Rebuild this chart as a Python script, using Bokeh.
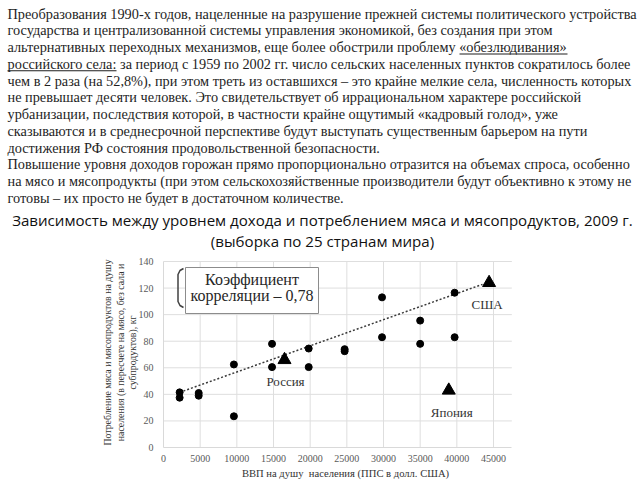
import math
from bokeh.plotting import figure
from bokeh.models import Range1d, FixedTicker
from bokeh.core.properties import value
from bokeh.embed import file_html
from bokeh.resources import INLINE

# ---------------- data ----------------
paragraph = [
    "Преобразования 1990-х годов, нацеленные на разрушение прежней системы политического устройства",
    "государства и централизованной системы управления экономикой, без создания при этом",
    "альтернативных переходных механизмов, еще более обострили проблему «обезлюдивания»",
    "российского села: за период с 1959 по 2002 гг. число сельских населенных пунктов сократилось более",
    "чем в 2 раза (на 52,8%), при этом треть из оставшихся – это крайне мелкие села, численность которых",
    "не превышает десяти человек. Это свидетельствует об иррациональном характере российской",
    "урбанизации, последствия которой, в частности крайне ощутимый «кадровый голод», уже",
    "сказываются и в среднесрочной перспективе будут выступать существенным барьером на пути",
    "достижения РФ состояния продовольственной безопасности.",
    "Повышение уровня доходов горожан прямо пропорционально отразится на объемах спроса, особенно",
    "на мясо и мясопродукты (при этом сельскохозяйственные производители будут объективно к этому не",
    "готовы – их просто не будет в достаточном количестве.",
]
title_lines = [
    "Зависимость между уровнем дохода и потреблением мяса и мясопродуктов, 2009 г.",
    "(выборка по 25 странам мира)",
]

gdp_circles = [2200, 2200, 4800, 4800, 9600, 9600, 14800, 14800, 19800, 19800,
               24700, 24700, 29800, 29800, 35000, 35000, 39700, 39700]
meat_circles = [41.5, 37.5, 41, 39, 62.5, 23.5, 78, 60.5, 74.5, 60.5,
                74, 72.5, 113, 83, 95.5, 78, 116.5, 83]

tri_names = ["Россия", "США", "Япония"]
tri_gdp = [16500, 44400, 38900]
tri_meat = [66, 124, 43]

trend_gdp = [2200, 43500]
trend_meat = [41.5, 122.8]

x_ticks = [0, 5000, 10000, 15000, 20000, 25000, 30000, 35000, 40000, 45000]
y_ticks = [0, 20, 40, 60, 80, 100, 120, 140]
x_max = 47500

x_label = "ВВП на душу\u00a0 населения (ППС в долл. США)"
y_label_lines = [
    "Потребление мяса и мясопродуктов на душу",
    "населения (в пересчете на мясо, без сала и",
    "субпродуктов), кг",
]
corr_lines = ["Коэффициент", "корреляции – 0,78"]

SERIF = value("Liberation Serif")

# ---------------- geometry (pixel placement of the chart area) ----------------
W, H = 640, 480
X0_PX, Y0_PX = 163, 447          # canvas position of (0, 0)
XPX = 330.0 / 45000              # pixels per GDP unit
YPX = 186.0 / 140                # pixels per meat unit


def cx(px):
    return (px - X0_PX) / XPX


def cy(py):
    return (Y0_PX - py) / YPX


p = figure(width=W, height=H, x_range=Range1d(cx(0), cx(W)), y_range=Range1d(cy(H), cy(0)),
           output_backend="svg", toolbar_location=None, min_border=0)
p.outline_line_color = None
p.grid.visible = False

# axes fixed at the origin so the frame spans the whole page
p.xaxis.fixed_location = 0
p.yaxis.fixed_location = 0
p.xaxis.bounds = (0, x_max)
p.yaxis.bounds = (0, y_ticks[-1])
p.xaxis.ticker = FixedTicker(ticks=x_ticks)
p.yaxis.ticker = FixedTicker(ticks=y_ticks)
for ax in (p.xaxis, p.yaxis):
    ax.major_tick_in = 0
    ax.major_tick_out = 0
    ax.minor_tick_in = 0
    ax.minor_tick_out = 0
    ax.axis_line_color = "#d9d9d9"
    ax.major_label_text_font = "Liberation Serif"
    ax.major_label_text_font_size = "10px"
    ax.major_label_text_color = "#595959"
p.xaxis.major_label_standoff = 7
p.yaxis.major_label_standoff = 10

# grid lines from the tick lists
p.segment(x0=x_ticks[1:], y0=[0] * (len(x_ticks) - 1), x1=x_ticks[1:], y1=[y_ticks[-1]] * (len(x_ticks) - 1),
          line_color="#dedede", line_width=1)
p.segment(x0=[0] * (len(y_ticks) - 1), y0=y_ticks[1:], x1=[x_max] * (len(y_ticks) - 1), y1=y_ticks[1:],
          line_color="#dedede", line_width=1)

# ---------------- text block ----------------
line_py = [13 + i * 16.75 for i in range(len(paragraph))]
p.text(x=[cx(7)] * len(paragraph), y=[cy(v) for v in line_py], text=paragraph, text_font=SERIF,
       text_font_size="14.3px", text_baseline="middle", text_align="left", text_color="#1e1e1e")
ul_y = [cy(line_py[2] + 7), cy(line_py[3] + 7)]
p.segment(x0=[cx(459), cx(7)], y0=ul_y, x1=[cx(567), cx(116)], y1=ul_y,
          line_color="#1e1e1e", line_width=1)

p.text(x=[cx(322)] * 2, y=[cy(219), cy(240)], text=title_lines, text_font=value("Open Sans"),
       text_font_size="15.1px", text_baseline="middle", text_align="center", text_color="#111111")

# ---------------- chart ----------------
# correlation box with bracket
p.quad(left=[cx(185)], right=[cx(318)], top=[cy(267)], bottom=[cy(313)],
       fill_color="white", line_color="#8c8c8c", line_width=1)
bx = [183, 179.5, 177.5, 177.5, 179.5, 183]
by = [268, 270, 274, 301, 305, 307]
p.line(x=[cx(v) for v in bx], y=[cy(v) for v in by], line_color="#404040", line_width=1.5)
p.text(x=[cx(251.5)] * 2, y=[cy(279), cy(295)], text=corr_lines, text_font=SERIF,
       text_font_size="16px", text_align="center", text_baseline="middle", text_color="#262626")

p.line(trend_gdp, trend_meat, line_dash="2 2", line_width=1.5, line_color="#3a3a3a")
p.scatter(gdp_circles, meat_circles, marker="circle", size=7, color="black")
p.scatter(tri_gdp, tri_meat, marker="triangle", size=13, color="black")
p.text(x=tri_gdp, y=tri_meat, text=tri_names, x_offset=[1, -2, 3], y_offset=[22, 22, 22],
       text_font=SERIF, text_font_size="13px", text_align="center", text_baseline="middle",
       text_color="#333333")

# axis titles
p.text(x=[cx(345)], y=[cy(473)], text=[x_label], text_font=SERIF, text_font_size="10.6px",
       text_align="center", text_baseline="middle", text_color="#333333")
p.text(x=[cx(v) for v in (107, 120, 132)], y=[cy(352)] * 3, text=y_label_lines, angle=math.pi / 2,
       text_font=SERIF, text_font_size="9.8px", text_align="center", text_baseline="middle",
       text_color="#333333")

open("out.html", "w").write(file_html(p, INLINE))
